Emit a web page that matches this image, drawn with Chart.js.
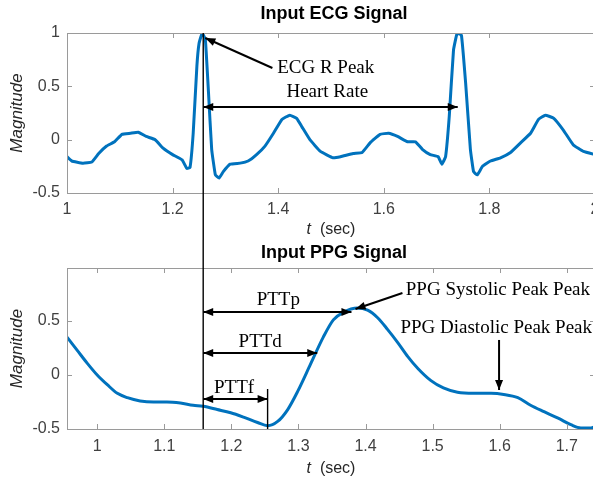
<!DOCTYPE html>
<html>
<head>
<meta charset="utf-8">
<title>Input ECG and PPG Signal</title>
<script src="https://cdn.jsdelivr.net/npm/chart.js"></script>
<style>
  html, body { margin: 0; padding: 0; background: #fff; overflow: hidden; }
  .box { position: absolute; left: 0; width: 595px; }
  #top { top: 0; height: 240px; }
  #bottom { top: 240px; height: 239px; }
</style>
</head>
<body>
<div class="box" id="top"><canvas id="ecgChart"></canvas></div>
<div class="box" id="bottom"><canvas id="ppgChart"></canvas></div>
<script>
// ECG signal (t in sec, magnitude)
const ecgTime = [1.000, 1.009, 1.030, 1.047, 1.060, 1.075, 1.090, 1.104, 1.120, 1.135, 1.150, 1.167,
  1.182, 1.200, 1.218, 1.227, 1.233, 1.239, 1.246, 1.250, 1.256, 1.262, 1.268, 1.274, 1.281, 1.288,
  1.296, 1.309, 1.328, 1.343, 1.359, 1.375, 1.391, 1.407, 1.422, 1.435, 1.445, 1.460, 1.480, 1.504,
  1.518, 1.542, 1.559, 1.574, 1.593, 1.609, 1.626, 1.645, 1.660, 1.673, 1.688, 1.703, 1.710, 1.717,
  1.724, 1.732, 1.739, 1.747, 1.755, 1.764, 1.770, 1.777, 1.787, 1.802, 1.821, 1.840, 1.859, 1.878,
  1.893, 1.906, 1.922, 1.940, 1.959, 1.978, 2.000];
const ecgValue = [-0.16, -0.20, -0.22, -0.21, -0.13, -0.06, -0.02, 0.05, 0.06, 0.07, 0.03, 0.00,
  -0.08, -0.14, -0.19, -0.27, -0.26, 0.06, 0.69, 0.90, 1.00, 0.94, 0.44, -0.09, -0.33, -0.36,
  -0.30, -0.23, -0.22, -0.20, -0.14, -0.06, 0.06, 0.19, 0.23, 0.20, 0.12, 0.00, -0.11, -0.17,
  -0.16, -0.13, -0.12, -0.03, 0.05, 0.06, 0.03, -0.02, -0.02, -0.09, -0.14, -0.16, -0.23, -0.16,
  0.22, 0.84, 1.00, 0.98, 0.53, -0.09, -0.30, -0.33, -0.25, -0.20, -0.17, -0.12, -0.03, 0.06,
  0.19, 0.23, 0.20, 0.09, -0.05, -0.11, -0.14];

// PPG signal
const ppgTime = [0.955, 0.970, 0.985, 1.000, 1.015, 1.030, 1.045, 1.064, 1.084, 1.104, 1.124, 1.143,
  1.158, 1.179, 1.199, 1.218, 1.239, 1.254, 1.269, 1.284, 1.299, 1.318, 1.337, 1.352, 1.367, 1.388,
  1.403, 1.418, 1.433, 1.448, 1.463, 1.478, 1.497, 1.516, 1.537, 1.561, 1.587, 1.606, 1.627, 1.646,
  1.666, 1.687, 1.706, 1.721, 1.736, 1.742];
const ppgValue = [0.35, 0.23, 0.11, 0.00, -0.09, -0.17, -0.21, -0.24, -0.25, -0.25, -0.26, -0.28,
  -0.29, -0.32, -0.35, -0.39, -0.44, -0.47, -0.43, -0.32, -0.15, 0.10, 0.35, 0.51, 0.58, 0.62,
  0.60, 0.53, 0.42, 0.30, 0.17, 0.06, -0.05, -0.12, -0.16, -0.17, -0.17, -0.18, -0.21, -0.28,
  -0.34, -0.40, -0.46, -0.49, -0.49, -0.48];

const ecgXTicks = [1, 1.2, 1.4, 1.6, 1.8, 2];
const ecgYTicks = [-0.5, 0, 0.5, 1];
const ppgXTicks = [1, 1.1, 1.2, 1.3, 1.4, 1.5, 1.6, 1.7];
const ppgYTicks = [-0.5, 0, 0.5];

// annotations, in axis values
const ecgMarkT = 1.258;
const ppgMarkT = 1.158;
const ecgNotes = [
  { text: 'ECG R Peak', x: 1.398, y: 0.672, align: 'left' },
  { text: 'Heart Rate', x: 1.493, y: 0.447, align: 'center' }
];
const ecgArrows = [
  { x1: 1.389, y1: 0.672, x2: 1.262, y2: 0.953, start: false, end: true },
  { x1: ecgMarkT, y1: 0.306, x2: 1.740, y2: 0.306, start: true, end: true }
];
const ppgNotes = [
  { text: 'PTTp', x: 1.270, y: 0.694, align: 'center' },
  { text: 'PTTd', x: 1.243, y: 0.306, align: 'center' },
  { text: 'PTTf', x: 1.204, y: -0.12, align: 'center' },
  { text: 'PPG Systolic Peak Peak', x: 1.460, y: 0.787, align: 'left' },
  { text: 'PPG Diastolic Peak Peak', x: 1.452, y: 0.435, align: 'left' }
];
const ppgArrows = [
  { x1: ppgMarkT, y1: 0.583, x2: 1.379, y2: 0.583, start: true, end: true },
  { x1: ppgMarkT, y1: 0.204, x2: 1.328, y2: 0.204, start: true, end: true },
  { x1: ppgMarkT, y1: -0.222, x2: 1.254, y2: -0.222, start: true, end: true },
  { x1: 1.455, y1: 0.759, x2: 1.385, y2: 0.611, start: false, end: true },
  { x1: 1.599, y1: 0.324, x2: 1.599, y2: -0.139, start: false, end: true }
];
const ppgFootLine = { x: 1.254, y1: -0.13, y2: -0.5 };

const SANS = '"Liberation Sans", Arial, sans-serif';
const SERIF = '"Liberation Serif", "Times New Roman", serif';

function head(ctx, x, y, ang) {
  const L = 10, W = 4;
  const c = Math.cos(ang), s = Math.sin(ang);
  ctx.beginPath();
  ctx.moveTo(x, y);
  ctx.lineTo(x - L * c + W * s, y - L * s - W * c);
  ctx.lineTo(x - L * c - W * s, y - L * s + W * c);
  ctx.closePath();
  ctx.fill();
}

function arrow(ctx, x1, y1, x2, y2, a, b) {
  const ang = Math.atan2(y2 - y1, x2 - x1);
  ctx.beginPath();
  ctx.moveTo(x1, y1);
  ctx.lineTo(x2, y2);
  ctx.stroke();
  if (b) head(ctx, x2, y2, ang);
  if (a) head(ctx, x1, y1, ang + Math.PI);
}

// MATLAB-style box, inward ticks, titles and the arrows
const figPlugin = {
  id: 'fig',
  afterDatasetsDraw(chart, args, opts) {
    const { ctx, chartArea: ca, scales: { x, y } } = chart;
    ctx.save();
    ctx.strokeStyle = '#9a9a9a';
    ctx.lineWidth = 1;
    ctx.strokeRect(ca.left + 0.5, ca.top + 0.5, ca.right - ca.left, ca.bottom - ca.top);
    ctx.beginPath();
    x.ticks.forEach(t => {
      const px = Math.round(x.getPixelForValue(t.value)) + 0.5;
      ctx.moveTo(px, ca.bottom); ctx.lineTo(px, ca.bottom - 5);
      ctx.moveTo(px, ca.top); ctx.lineTo(px, ca.top + 5);
    });
    y.ticks.forEach(t => {
      const py = Math.round(y.getPixelForValue(t.value)) + 0.5;
      ctx.moveTo(ca.left, py); ctx.lineTo(ca.left + 5, py);
      ctx.moveTo(ca.right, py); ctx.lineTo(ca.right - 5, py);
    });
    ctx.stroke();

    const cx = (ca.left + ca.right) / 2;
    ctx.fillStyle = '#000';
    ctx.textAlign = 'center';
    ctx.textBaseline = 'middle';
    ctx.font = 'bold 18px ' + SANS;
    ctx.fillText(opts.title, cx + 3, opts.titleY);

    // x axis title: italic t, upright unit
    ctx.fillStyle = '#262626';
    ctx.textAlign = 'left';
    ctx.font = 'italic 16px ' + SANS;
    const tw = ctx.measureText('t').width;
    ctx.font = '16px ' + SANS;
    const uw = ctx.measureText('  (sec)').width;
    const sx = cx - (tw + uw) / 2;
    ctx.font = 'italic 16px ' + SANS;
    ctx.fillText('t', sx, opts.xTitleY);
    ctx.font = '16px ' + SANS;
    ctx.fillText('  (sec)', sx + tw, opts.xTitleY);

    // reference line at the R peak time
    ctx.strokeStyle = '#000';
    ctx.lineWidth = 1.4;
    const mx = x.getPixelForValue(opts.markT);
    ctx.beginPath();
    ctx.moveTo(mx, opts.markFrom === 'top' ? 0 : y.getPixelForValue(opts.markFrom));
    ctx.lineTo(mx, opts.markTo === 'bottom' ? chart.height : y.getPixelForValue(opts.markTo));
    ctx.stroke();
    if (opts.foot) {
      const fx = x.getPixelForValue(opts.foot.x);
      ctx.beginPath();
      ctx.moveTo(fx, y.getPixelForValue(opts.foot.y1));
      ctx.lineTo(fx, y.getPixelForValue(opts.foot.y2));
      ctx.stroke();
    }

    ctx.fillStyle = '#000';
    ctx.lineWidth = 2;
    opts.arrows.forEach(a => {
      arrow(ctx, x.getPixelForValue(a.x1), y.getPixelForValue(a.y1),
        x.getPixelForValue(a.x2), y.getPixelForValue(a.y2), a.start, a.end);
    });
    ctx.font = '19px ' + SERIF;
    ctx.textBaseline = 'middle';
    opts.notes.forEach(n => {
      ctx.textAlign = n.align;
      ctx.fillText(n.text, x.getPixelForValue(n.x), y.getPixelForValue(n.y));
    });
    ctx.restore();
  }
};

const tickLabel = v => String(Math.round(v * 100) / 100);

function makeChart(id, time, values, xr, yr, xTicks, yTicks, axisH, tickPad, figOpts, topPad, curve) {
  return new Chart(document.getElementById(id), {
    type: 'line',
    data: {
      datasets: [{
        data: time.map((t, i) => ({ x: t, y: values[i] })),
        borderColor: '#0072BD',
        borderWidth: 3,
        pointRadius: 0,
        fill: false,
        tension: curve ? 0.4 : 0.1,
        cubicInterpolationMode: curve ? 'monotone' : 'default'
      }]
    },
    options: {
      responsive: true,
      maintainAspectRatio: false,
      animation: false,
      layout: { padding: { top: topPad, left: 0, right: 0, bottom: 0 } },
      plugins: { legend: { display: false }, tooltip: { enabled: false }, fig: figOpts },
      scales: {
        x: {
          type: 'linear', min: xr[0], max: xr[1],
          afterBuildTicks: s => { s.ticks = xTicks.map(v => ({ value: v })); },
          afterFit: s => { s.height = axisH; s.paddingLeft = 0; s.paddingRight = 0; },
          grid: { display: false, drawTicks: false },
          border: { display: false },
          ticks: { font: { family: SANS, size: 16 }, color: '#404040', padding: tickPad,
            maxRotation: 0, autoSkip: false, callback: tickLabel }
        },
        y: {
          min: yr[0], max: yr[1],
          afterBuildTicks: s => { s.ticks = yTicks.map(v => ({ value: v })); },
          afterFit: s => { s.width = 67; s.paddingTop = 0; s.paddingBottom = 0; },
          grid: { display: false, drawTicks: false },
          border: { display: false },
          ticks: { font: { family: SANS, size: 16 }, color: '#404040', padding: 7, callback: tickLabel },
          title: { display: true, text: 'Magnitude', color: '#262626',
            font: { family: SANS, size: 17, style: 'italic' }, padding: { top: 7, bottom: 0 } }
        }
      }
    },
    plugins: [figPlugin]
  });
}

makeChart('ecgChart', ecgTime, ecgValue, [1, 2], [-0.5, 1], ecgXTicks, ecgYTicks, 47, 7,
  { title: 'Input ECG Signal', titleY: 14, xTitleY: 230, markT: ecgMarkT, markFrom: 1, markTo: 'bottom',
    arrows: ecgArrows, notes: ecgNotes }, 33, false);

makeChart('ppgChart', ppgTime, ppgValue, [0.955, 1.742], [-0.5, 0.99], ppgXTicks, ppgYTicks, 50, 8,
  { title: 'Input PPG Signal', titleY: 13, xTitleY: 229, markT: ppgMarkT, markFrom: 'top', markTo: -0.5,
    foot: ppgFootLine, arrows: ppgArrows, notes: ppgNotes }, 28, true);
</script>
</body>
</html>
